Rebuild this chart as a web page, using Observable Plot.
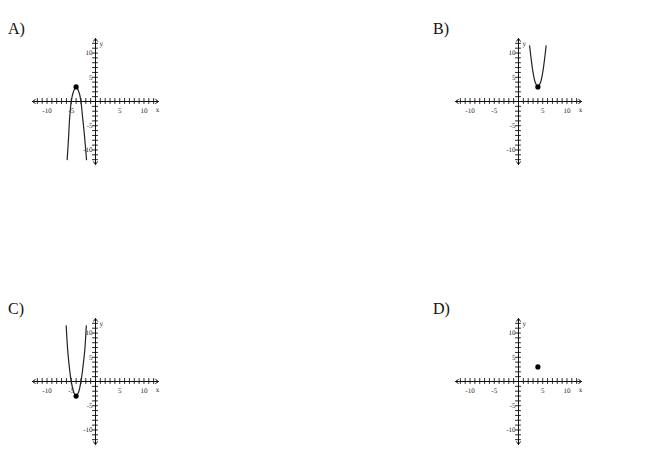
<!DOCTYPE html>
<html><head><meta charset="utf-8">
<script src="https://cdn.jsdelivr.net/npm/d3@7"></script>
<script src="https://cdn.jsdelivr.net/npm/@observablehq/plot@0.6"></script>
<style>
body{margin:0;background:#fff}
#wrap{position:relative;width:650px;height:454px;background:#fff;font-family:"Liberation Serif",serif;overflow:hidden}
.lab{position:absolute;font-size:16px;line-height:16px;color:#111}
.pan{position:absolute;text-rendering:geometricPrecision;-webkit-font-smoothing:grayscale}
</style></head><body><div id="wrap"></div>
<script>
// Panel labels
const panelLabels = ["A)", "B)", "C)", "D)"];
// Integer tick positions on both axes
const axisTicks = [-12,-11,-10,-9,-8,-7,-6,-5,-4,-3,-2,-1,1,2,3,4,5,6,7,8,9,10,11,12];
// Labelled ticks
const tickLabels = [-10, -5, 5, 10];
// Axis extents (arrow tips)
const axisEnds = [-13, 13];

// Curves
const curveAx = [-5.85, -5.6, -5.3, -5.0, -4.6, -4.0, -3.4, -3.0, -2.7, -2.35, -1.85];
const curveAy = [-12, -8.2, -2.9, 0.0, 1.9, 3.0, 1.9, 0.0, -2.9, -6.2, -12];
const curveBx = [2.3, 2.6, 3.0, 3.5, 4.0, 4.5, 5.0, 5.4, 5.7];
const curveBy = [11.5, 8.9, 6.0, 3.8, 3.0, 3.8, 6.0, 8.9, 11.5];
const curveCx = [-6.05, -5.7, -5.3, -5.0, -4.5, -4.0, -3.5, -3.0, -2.6, -2.2, -1.9];
const curveCy = [11.5, 6.0, 2.1, 0.0, -2.2, -3.0, -2.2, 0.0, 2.9, 6.6, 11.5];
const curveDx = [];
const curveDy = [];
// Highlighted vertex points
const vertexX = [-4, 4, -4, 4];
const vertexY = [3, 3, -3, 3];

const curvesX = [curveAx, curveBx, curveCx, curveDx];
const curvesY = [curveAy, curveBy, curveCy, curveDy];

// layout
const panelLeft = [12, 435, 12, 435];
const panelTop = [18, 18, 298, 298];
const labelLeft = [8, 433, 8, 433];
const labelTop = [21, 21, 301, 301];

const wrap = document.getElementById("wrap");
const font = "Liberation Serif";
const ink = "#222";

for (let i = 0; i < 4; i++) {
  const pts = curvesX[i].map((x, j) => ({x, y: curvesY[i][j]}));
  const chart = Plot.plot({
    width: 166, height: 166,
    marginLeft: 20, marginRight: 20, marginTop: 20, marginBottom: 20,
    x: {domain: axisEnds, axis: null},
    y: {domain: axisEnds, axis: null},
    style: {background: "transparent", overflow: "visible", fontFamily: font},
    marks: [
      Plot.arrow([0, 1], {x1: 0, y1: 0, x2: d => d ? axisEnds[1] : axisEnds[0], y2: 0, stroke: "#111", strokeWidth: 1, headLength: 5, headAngle: 70, inset: 0}),
      Plot.arrow([0, 1], {x1: 0, y1: 0, y2: d => d ? axisEnds[1] : axisEnds[0], x2: 0, stroke: "#111", strokeWidth: 1, headLength: 5, headAngle: 70, inset: 0}),
      Plot.ruleX(axisTicks, {x: d => d, y1: -0.6, y2: 0.6, stroke: "#111", strokeWidth: 0.9}),
      Plot.ruleY(axisTicks, {y: d => d, x1: -0.6, x2: 0.6, stroke: "#111", strokeWidth: 0.9}),
      Plot.text(tickLabels, {x: d => d, y: 0, dy: 9, text: d => String(d), fontSize: 7, fill: ink, fontFamily: font}),
      Plot.text(tickLabels, {y: d => d, x: 0, dx: -3, text: d => String(d), textAnchor: "end", fontSize: 7, fill: ink, fontFamily: font}),
      Plot.text(["x"], {x: axisEnds[1], y: 0, dy: 8, dx: -1, text: d => d, fontSize: 7, fill: ink, fontFamily: font}),
      Plot.text(["y"], {x: 0, y: axisEnds[1], dx: 4, dy: 5, text: d => d, textAnchor: "start", fontSize: 7, fill: ink, fontFamily: font}),
      Plot.line(pts, {x: "x", y: "y", curve: "catmull-rom", stroke: "#222", strokeWidth: 1.2}),
      Plot.dot([{x: vertexX[i], y: vertexY[i]}], {x: "x", y: "y", r: 2.6, fill: "#000", stroke: "none"})
    ]
  });
  chart.classList.add("pan");
  chart.style.left = panelLeft[i] + "px";
  chart.style.top = panelTop[i] + "px";
  wrap.appendChild(chart);

  const lab = document.createElement("div");
  lab.className = "lab";
  lab.textContent = panelLabels[i];
  lab.style.left = labelLeft[i] + "px";
  lab.style.top = labelTop[i] + "px";
  wrap.appendChild(lab);
}
</script>
</body></html>
